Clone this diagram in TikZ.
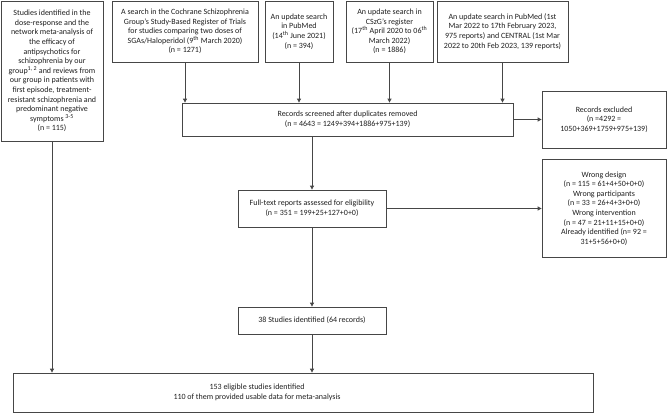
\documentclass[tikz,border=0pt]{standalone}
\usepackage{fontspec}
\setmainfont{Carlito}
\usetikzlibrary{arrows.meta}
\definecolor{linegray}{RGB}{70,70,70}
\definecolor{textgray}{RGB}{30,30,30}

\begin{document}
\begin{tikzpicture}[x=1pt, y=-1pt, >={Triangle[length=4pt, width=4pt]},
  box/.style={draw=linegray, line width=.8pt, align=center, inner sep=1pt,
    text=textgray, font=\fontsize{8pt}{9.6pt}\selectfont},
  link/.style={->, draw=linegray, line width=.8pt}]
  \useasboundingbox (0,0) rectangle (668,413);
  % sources
  \node [box, minimum width=102pt, minimum height=140pt] (previous) at (52, 71)
    {Studies identified in the\\ dose-response and the\\ network meta-analysis of\\
     the efficacy of\\ antipsychotics for\\ schizophrenia by our\\
     group\textsuperscript{1, 2} and reviews from\\ our group in patients with\\
     first episode, treatment-\\ resistant schizophrenia and\\ predominant negative\\
     symptoms \textsuperscript{3-5}\\ (n = 115)};
  \node [box, minimum width=146pt, minimum height=61pt] (cochrane) at (185, 31.5)
    {A search in the Cochrane Schizophrenia\\ Group's Study-Based Register of Trials\\
     for studies comparing two doses of\\ SGAs/Haloperidol (9\textsuperscript{th} March 2020)\\
     (n = 1271)};
  \node [box, minimum width=68pt, minimum height=61pt] (pubmed) at (299, 31.5)
    {An update search\\ in PubMed\\ (14\textsuperscript{th} June 2021)\\ (n = 394)};
  \node [box, minimum width=87pt, minimum height=61pt] (cszg) at (389.5, 31.5)
    {An update search in\\ CSzG's register\\
     (17\textsuperscript{th} April 2020 to 06\textsuperscript{th}\\ March 2022)\\ (n = 1886)};
  \node [box, minimum width=131pt, minimum height=61pt] (central) at (502.5, 31.5)
    {An update search in PubMed (1st\\ Mar 2022 to 17th February 2023,\\
     975 reports) and CENTRAL (1st Mar\\ 2022 to 20th Feb 2023, 139 reports)};
  % screening
  \node [box, minimum width=331pt, minimum height=33pt] (screened) at (347.5, 119.5)
    {Records screened after duplicates removed\\ (n = 4643 = 1249+394+1886+975+139)};
  \node [box, minimum width=124pt, minimum height=57pt] (excluded) at (604, 119.5)
    {Records excluded\\ (n =4292 =\\ 1050+369+1759+975+139)};
  \node [box, minimum width=148pt, minimum height=37pt] (fulltext) at (312, 208.5)
    {Full-text reports assessed for eligibility\\ (n = 351 = 199+25+127+0+0)};
  \node [box, minimum width=124pt, minimum height=98pt] (reasons) at (604, 208.5)
    {Wrong design\\ (n = 115 = 61+4+50+0+0)\\ Wrong participants\\
     (n = 33 = 26+4+3+0+0)\\ Wrong intervention\\ (n = 47 = 21+11+15+0+0)\\
     Already identified (n= 92 =\\ 31+5+56+0+0)};
  \node [box, minimum width=148pt, minimum height=27pt] (found) at (312, 320.5)
    {38 Studies identified (64 records)};
  \node [box, minimum width=580pt, minimum height=39pt] (eligible) at (303, 392.5)
    {\begin{tabular}{@{}c@{}}153 eligible studies identified\\
     110 of them provided usable data for meta-analysis\end{tabular}\hspace{92pt}};
  % connectors
  \draw [link] (cochrane) -- (cochrane |- screened.north);
  \draw [link] (pubmed) -- (pubmed |- screened.north);
  \draw [link] (cszg) -- (cszg |- screened.north);
  \draw [link] (central) -- (central |- screened.north);
  \draw [link] (screened) -- (excluded);
  \draw [link] (screened.south -| fulltext) -- (fulltext);
  \draw [link] (fulltext) -- (reasons);
  \draw [link] (fulltext) -- (found);
  \draw [link] (found) -- (found |- eligible.north);
  \draw [link] (previous) -- (previous |- eligible.north);
\end{tikzpicture}
\end{document}
